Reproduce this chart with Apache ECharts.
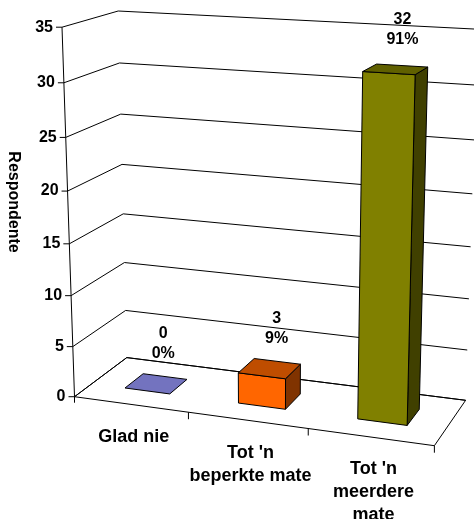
<!DOCTYPE html>
<html>
<head>
<meta charset="utf-8">
<script src="https://cdn.jsdelivr.net/npm/echarts@6.0.0/dist/echarts.min.js"></script>
<style>
html, body { margin: 0; padding: 0; background: #fff; }
#chart { width: 474px; height: 519px; }
</style>
</head>
<body>
<div id="chart"></div>
<script>
// Survey answers: number of respondents per answer
const categories = ['Glad nie', "Tot 'n\nbeperkte mate", "Tot 'n\nmeerdere\nmate"];
const respondents = [0, 3, 32];
const valueTicks = [0, 5, 10, 15, 20, 25, 30, 35];
const axisTitle = 'Respondente';

const FONT = '"Liberation Sans", Arial, sans-serif';
const BAR_COLORS = ['#9999FF', '#FF6600', '#808000'];
const BAR_WIDTH = 0.4;          // share of a category band
const BAR_DEPTH = [0.32, 0.68]; // front/back of the bars inside the floor depth
const VMAX = 35;

// Screen corners of the plot box: [x share, value, depth, px, py]
const FRAME = [
  [0, 0, 0, 74.5, 396.7], [1, 0, 0, 434.4, 445.7],
  [0, 35, 0, 62.0, 27.2], [1, 35, 0, 445.3, 48.2],
  [0, 0, 1, 126.8, 357.6], [1, 0, 1, 465.6, 400.3],
  [0, 35, 1, 118.2, 11.0], [1, 35, 1, 477.7, 29.2]
];

function solveLinear(A, b) {
  const n = b.length;
  for (let k = 0; k < n; k++) {
    let piv = k;
    for (let i = k + 1; i < n; i++) if (Math.abs(A[i][k]) > Math.abs(A[piv][k])) piv = i;
    [A[k], A[piv]] = [A[piv], A[k]]; [b[k], b[piv]] = [b[piv], b[k]];
    for (let i = k + 1; i < n; i++) {
      const f = A[i][k] / A[k][k];
      for (let j = k; j < n; j++) A[i][j] -= f * A[k][j];
      b[i] -= f * b[k];
    }
  }
  const x = new Array(n).fill(0);
  for (let i = n - 1; i >= 0; i--) {
    let s = b[i];
    for (let j = i + 1; j < n; j++) s -= A[i][j] * x[j];
    x[i] = s / A[i][i];
  }
  return x;
}

// Perspective matrix (3x4, last entry 1) solved from the box corners
function fitPerspective(corners) {
  const n = 11;
  const M = Array.from({ length: n }, () => new Array(n).fill(0));
  const r = new Array(n).fill(0);
  const add = (row, b) => {
    for (let i = 0; i < n; i++) {
      r[i] += row[i] * b;
      for (let j = 0; j < n; j++) M[i][j] += row[i] * row[j];
    }
  };
  corners.forEach(([X, val, Z, x, y]) => {
    const Y = val / VMAX;
    add([X, Y, Z, 1, 0, 0, 0, 0, -x * X, -x * Y, -x * Z], x);
    add([0, 0, 0, 0, X, Y, Z, 1, -y * X, -y * Y, -y * Z], y);
  });
  return solveLinear(M, r);
}
const P = fitPerspective(FRAME);
function proj(X, Y, Z) {
  const w = P[8] * X + P[9] * Y + P[10] * Z + 1;
  return [(P[0] * X + P[1] * Y + P[2] * Z + P[3]) / w, (P[4] * X + P[5] * Y + P[6] * Z + P[7]) / w];
}

function shade(hex, k) {
  const n = parseInt(hex.slice(1), 16);
  const c = [(n >> 16) & 255, (n >> 8) & 255, n & 255].map(v => Math.round(v * k));
  return 'rgb(' + c.join(',') + ')';
}

// Normalised box coordinates from the hidden cartesian axes
function toBox(params, api, cat, val) {
  const cs = params.coordSys;
  const p = api.coord([cat, val]);
  return [(p[0] - cs.x) / cs.width, (cs.y + cs.height - p[1]) / cs.height];
}

const chart = echarts.init(document.getElementById('chart'), null, { renderer: 'canvas' });

const option = {
  animation: false,
  grid: { left: 0, top: 0, width: 300, height: 350, show: false },
  xAxis: { type: 'category', data: categories, show: false },
  yAxis: { type: 'value', min: 0, max: VMAX, interval: 5, show: false },
  series: [
    {
      // floor, value axis line and axis title
      type: 'custom', clip: false, z: 1,
      data: [[0, 0]],
      renderItem: function (params, api) {
        const f = [proj(0, 0, 0), proj(1, 0, 0), proj(1, 0, 1), proj(0, 0, 1)];
        const top = proj(0, 1, 0);
        return {
          type: 'group',
          children: [
            { type: 'polygon', shape: { points: f }, style: { fill: '#fff', stroke: '#000', lineWidth: 1 } },
            { type: 'polyline', shape: { points: [top, f[0], [f[0][0], f[0][1] + 6]] }, style: { fill: null, stroke: '#000', lineWidth: 1 } },
            {
              type: 'text', x: 13, y: 202, rotation: -Math.PI / 2,
              style: { text: axisTitle, font: 'bold 16px ' + FONT, fill: '#000', align: 'center', verticalAlign: 'middle' }
            }
          ]
        };
      }
    },
    {
      // gridlines on the side and back walls, value ticks and labels
      type: 'custom', clip: false, z: 2,
      data: valueTicks.map(t => [0, t]),
      renderItem: function (params, api) {
        const v = toBox(params, api, 0, api.value(1))[1];
        const a = proj(0, v, 0), b = proj(0, v, 1), c = proj(1, v, 1);
        return {
          type: 'group',
          children: [
            { type: 'polyline', shape: { points: [a, b, c] }, style: { fill: null, stroke: '#000', lineWidth: 1 } },
            { type: 'line', shape: { x1: a[0] - 6, y1: a[1], x2: a[0], y2: a[1] }, style: { stroke: '#000', lineWidth: 1 } },
            {
              type: 'text', x: a[0] - 9, y: a[1],
              style: { text: String(api.value(1)), font: 'bold 16px ' + FONT, fill: '#000', align: 'right', verticalAlign: 'middle' }
            }
          ]
        };
      }
    },
    {
      // category ticks and labels along the front edge of the floor
      type: 'custom', clip: false, z: 2,
      data: categories.map((c, i) => [i, 0]),
      renderItem: function (params, api) {
        const i = api.value(0);
        const cs = params.coordSys;
        const u = toBox(params, api, i, 0)[0];
        const half = api.size([1, 0])[0] / cs.width / 2;
        const end = proj(u + half, 0, 0);
        const mid = proj(u, 0, 0);
        return {
          type: 'group',
          children: [
            { type: 'line', shape: { x1: end[0], y1: end[1], x2: end[0], y2: end[1] + 7 }, style: { stroke: '#000', lineWidth: 1 } },
            {
              type: 'text', x: mid[0] + 3, y: mid[1] + 21,
              style: { text: categories[i], font: 'bold 18px ' + FONT, fill: '#000', align: 'center', verticalAlign: 'top', lineHeight: 23 }
            }
          ]
        };
      }
    },
    {
      // 3D bars with count and share labels
      type: 'custom', clip: false, z: 3,
      data: respondents.map((r, i) => [i, r]),
      renderItem: function (params, api) {
        const i = api.value(0), val = api.value(1);
        const cs = params.coordSys;
        const [u, v] = toBox(params, api, i, val);
        const hw = api.size([1, 0])[0] / cs.width * BAR_WIDTH / 2;
        const x0 = u - hw, x1 = u + hw, z0 = BAR_DEPTH[0], z1 = BAR_DEPTH[1];
        const base = BAR_COLORS[i];
        const edge = { stroke: '#000', lineWidth: 1, lineJoin: 'round' };
        const faces = [];
        if (v > 0) {
          faces.push({ type: 'polygon', shape: { points: [proj(x1, 0, z0), proj(x1, 0, z1), proj(x1, v, z1), proj(x1, v, z0)] }, style: Object.assign({ fill: shade(base, 0.5) }, edge) });
          faces.push({ type: 'polygon', shape: { points: [proj(x0, 0, z0), proj(x1, 0, z0), proj(x1, v, z0), proj(x0, v, z0)] }, style: Object.assign({ fill: base }, edge) });
        }
        faces.push({ type: 'polygon', shape: { points: [proj(x0, v, z0), proj(x1, v, z0), proj(x1, v, z1), proj(x0, v, z1)] }, style: Object.assign({ fill: shade(base, 0.75) }, edge) });
        const total = respondents.reduce((s, n) => s + n, 0);
        const pct = Math.round(val / total * 100);
        const c = proj(u, v, 0.5);
        faces.push({
          type: 'text', x: c[0] + 7, y: c[1] - 20,
          style: { text: val + '\n' + pct + '%', font: 'bold 16px ' + FONT, fill: '#000', align: 'center', verticalAlign: 'bottom', lineHeight: 20 }
        });
        return { type: 'group', children: faces };
      }
    }
  ]
};
chart.setOption(option);
</script>
</body>
</html>
